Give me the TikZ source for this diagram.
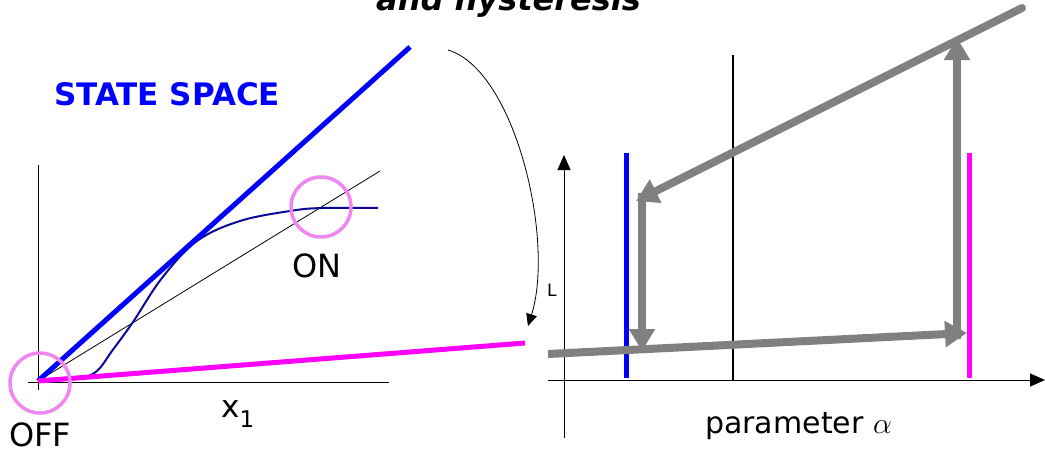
\RequirePackage{fix-cm}
\documentclass[tikz,border=0pt]{standalone}
\usepackage{fontspec}
\setmainfont{DejaVu Sans}
\usetikzlibrary{arrows.meta}
\definecolor{pureblue}{RGB}{0,0,255}
\definecolor{puremag}{RGB}{255,0,255}
\definecolor{pinkring}{RGB}{240,135,240}
\definecolor{navycurve}{RGB}{10,10,150}
\definecolor{hgray}{RGB}{128,128,128}
\begin{document}
\begin{tikzpicture}[x=1pt,y=-1pt,
  lbl/.style={inner sep=0pt, anchor=base west},
  axis/.style={line width=1pt, black},
  thinline/.style={line width=0.8pt, black},
  ring/.style={circle, draw=pinkring, line width=3.5pt, minimum size=60pt, inner sep=0pt},
  bluebar/.style={pureblue, line width=5pt},
  magbar/.style={puremag, line width=5pt},
  hyst/.style={hgray, line width=8pt, -{Triangle[length=22pt,width=25pt]}},
  axarrow/.style={line width=1pt, -{Triangle[length=15pt,width=13pt]}}
]
\useasboundingbox (0,0) rectangle (1045,450);

% ---------- title (cut at the top)
\node[lbl, font=\fontsize{32}{32}\selectfont\bfseries\itshape] (title) at (376,10) {and hysteresis};

% ---------- left panel: state space
\coordinate (O) at (38,381);
\coordinate (yTop) at (38,165);
\coordinate (yBot) at (38,390);
\coordinate (xL) at (28,382);
\coordinate (xR) at (389,382);
\draw[axis] (yTop) -- (yBot);
\draw[axis] (xL) -- (xR);

\coordinate (blueEnd) at (410,47);
\coordinate (thinEnd) at (380,171);
\coordinate (magEnd) at (525,343);
\draw[thinline] (O) -- (thinEnd);
\draw[navycurve, line width=2pt] plot[smooth, tension=0.6] coordinates
  {(80,379) (97,371) (112,351) (133,322) (162,278) (197,241) (240,221) (290,211) (322,208) (378,208)};
\draw[bluebar] (O) -- (blueEnd);
\draw[magbar] (O) -- (magEnd);

\node[ring] (offc) at (40,383) {};
\node[ring] (onc) at (321,207) {};

\node[lbl, text=pureblue, font=\fontsize{31}{31}\selectfont\bfseries] (ss) at (54,105) {STATE SPACE};
\node[lbl, font=\fontsize{32}{32}\selectfont] (on) at (292,277) {ON};
\node[lbl, font=\fontsize{32}{32}\selectfont] (off) at (9,446) {OFF};
\node[lbl, font=\fontsize{31}{31}\selectfont] (x1) at (221,417) {x\raisebox{-10pt}{\fontsize{23}{23}\selectfont 1}};

% ---------- curved link arrow
\coordinate (cS) at (448,50);
\coordinate (cE) at (528,326);
\draw[line width=0.8pt, -{Triangle[length=12pt,width=11pt]}] (cS) .. controls (515,70) and (555,240) .. (cE);

% ---------- right panel: bifurcation diagram
\coordinate (ryTop) at (564,155);
\coordinate (ryBot) at (564,438);
\coordinate (rxL) at (548,380);
\coordinate (rxR) at (1045,380);
\draw[axarrow] (ryBot) -- (ryTop);
\draw[axarrow] (rxL) -- (rxR);

\coordinate (bT) at (626,153);
\coordinate (bB) at (626,378);
\coordinate (mT) at (969,153);
\coordinate (mB) at (969,378);
\coordinate (kT) at (733,55);
\coordinate (kB) at (733,380);
\draw[thinline, line width=1.2pt] (kT) -- (kB);
\draw[bluebar] (bT) -- (bB);
\draw[magbar] (mT) -- (mB);

\node[lbl, font=\fontsize{17}{17}\selectfont] (Llab) at (547,296) {L};

\coordinate (lowS) at (548,354);
\coordinate (lowE) at (967,333);
\coordinate (upS) at (1022,8);
\coordinate (upE) at (636,201);
\coordinate (rvS) at (957,339);
\coordinate (rvE) at (957,38);
\coordinate (lvS) at (642,193);
\coordinate (lvE) at (642,351);
\draw[hyst] (lvS) -- (lvE);
\draw[hyst] (rvS) -- (rvE);
\draw[hyst] (lowS) -- (lowE);
\draw[hyst, line cap=round] (upS) -- (upE);

\node[lbl, font=\fontsize{30}{30}\selectfont] (param) at (705,433) {parameter $\alpha$};
\end{tikzpicture}
\end{document}
